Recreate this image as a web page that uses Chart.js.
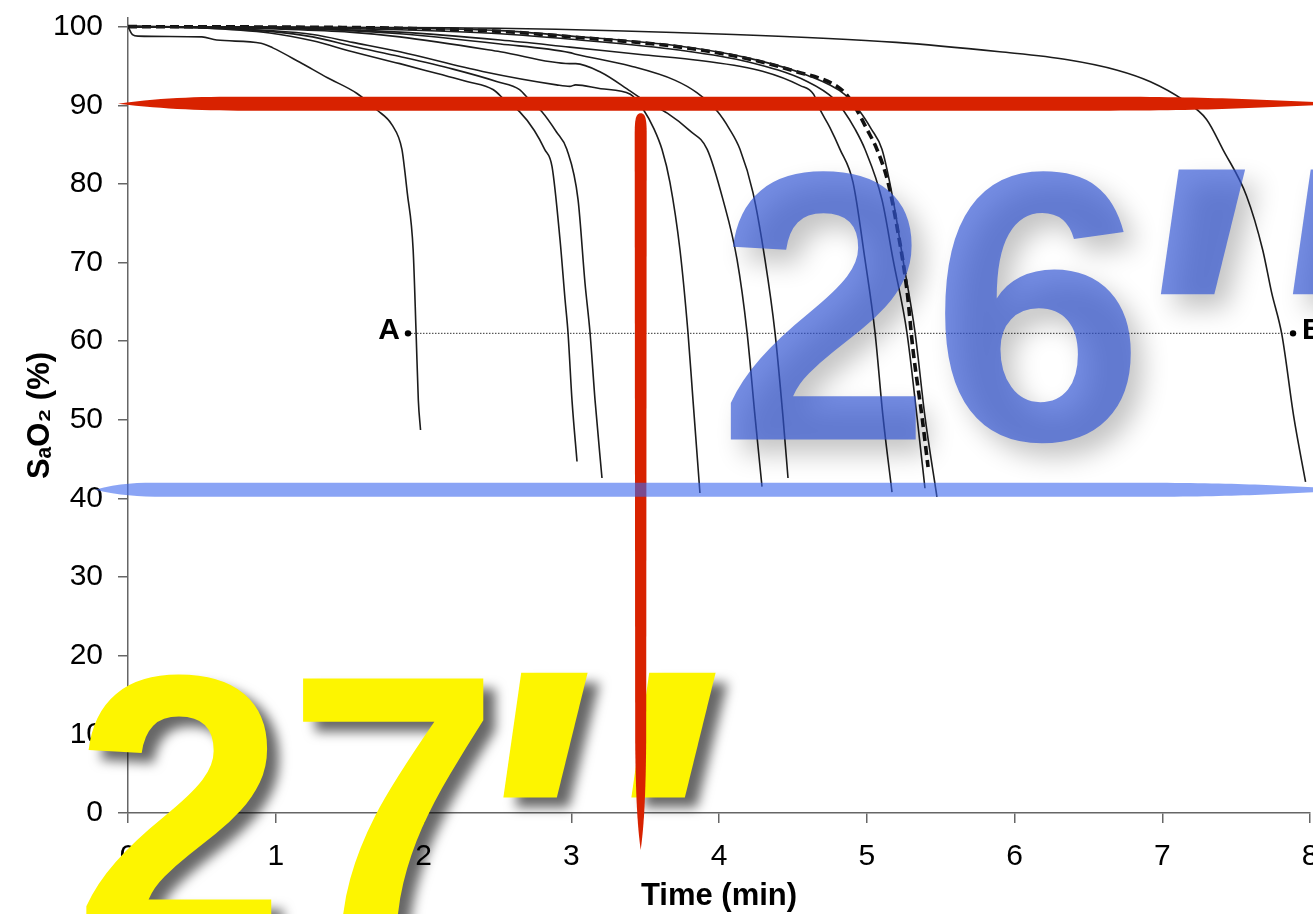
<!DOCTYPE html>
<html><head><meta charset="utf-8">
<script src="https://cdn.jsdelivr.net/npm/chart.js@4.4.0/dist/chart.umd.min.js"></script>
<style>
html,body{margin:0;padding:0;overflow:hidden;background:#fff;width:1313px;height:914px;}
#wrap{position:absolute;left:0;top:0;width:1340px;height:914px;}
</style></head><body>
<div id="wrap"><canvas id="c" width="1340" height="914"></canvas></div>
<script>
// ---- axis ticks ----
const xTickValues = [0,1,2,3,4,5,6,7,8];
const yTickValues = [0,10,20,30,40,50,60,70,80,90,100];

// ---- SaO2 desaturation curves (time in min, SaO2 in %) ----
const curveA_t = [0,0.03,0.07,0.5,0.6,0.9,0.98,1.16,1.35,1.55,1.685,1.787,1.854,1.875,1.89,1.93,1.95,1.965,1.98];
const curveA_s = [100,99.0,98.8,98.7,98.3,97.9,97.3,95.5,93.5,91.5,89.4,87.5,84.4,81.4,78.9,71.6,61.0,52.5,48.7];

const curve2_t = [0,0.5,0.96,1.25,1.52,1.84,2.1,2.3,2.47,2.56,2.65,2.75,2.82,2.87,2.924,2.958,2.978,3.005,3.039];
const curve2_s = [100,99.85,99.2,98.2,96.8,95.3,94.0,93.0,92.0,90.5,89.2,86.8,84.4,82.2,72.9,65.3,61.1,52.5,44.7];

const curve3_t = [0,0.5,0.96,1.25,1.52,1.84,2.2,2.5,2.65,2.72,2.80,2.9,2.97,3.046,3.093,3.127,3.161,3.208];
const curve3_s = [100,99.85,99.4,98.7,97.5,96.2,94.6,93.0,92.0,90.6,89.2,86.6,84.4,78.0,67.4,61.1,52.5,42.6];

const curve4_t = [0,0.5,0.96,1.25,1.52,1.84,2.4,2.9,2.99,3.03,3.2,3.40,3.49,3.56,3.614,3.668,3.736,3.79,3.824,3.871];
const curve4_s = [100,99.9,99.5,99.0,98.0,96.8,94.3,92.6,92.4,92.6,92.1,91.4,89.4,87.0,84.4,80.2,71.6,61.1,52.5,40.7];

const curve5_t = [0,0.5,1.0,1.5,1.84,2.52,2.99,3.03,3.2,3.4,3.52,3.65,3.8,3.92,4.027,4.122,4.19,4.244,4.291];
const curve5_s = [100,99.95,99.7,99.3,98.7,96.8,95.3,95.3,94.2,91.8,90.3,89.0,86.8,84.4,78.0,70.4,61.1,50.4,41.5];

const curve6_t = [0,0.5,1.0,1.5,1.84,2.52,2.99,3.03,3.4,3.7,3.85,3.99,4.07,4.142,4.23,4.311,4.379,4.433,4.467];
const curve6_s = [100,99.95,99.8,99.5,99.1,97.8,96.7,96.5,95.0,93.2,91.6,89.2,87.0,84.4,78.9,70.4,61.1,50.4,42.6];

const curve7_t = [0,0.5,1.0,1.84,2.52,2.99,3.5,3.87,4.3,4.55,4.64,4.68,4.75,4.819,4.907,4.988,5.056,5.11,5.171];
const curve7_s = [100,99.95,99.85,99.3,98.3,97.4,96.4,95.7,94.3,92.5,91.4,89.6,87.2,84.4,80.2,70.4,61.1,50.4,40.8];

const curve8_t = [0,1.0,1.84,2.52,3.0,3.74,4.2,4.6,4.78,4.84,4.92,4.988,5.103,5.178,5.272,5.34,5.394];
const curve8_s = [100,99.9,99.6,99.1,98.4,97.0,95.5,93.0,90.8,89.4,87.0,84.4,78.0,70.4,61.1,50.4,41.3];

const curve9_t = [0,1.0,1.84,2.52,3.0,3.74,4.2,4.6,4.85,4.95,5.03,5.103,5.178,5.245,5.327,5.394,5.475];
const curve9_s = [100,99.95,99.8,99.5,98.8,97.5,96.0,93.8,91.4,89.3,87.0,84.4,78.0,70.4,61.1,50.4,40.2];

const dashed_t = [0,1.0,1.84,2.52,3.0,3.74,4.2,4.5,4.8,4.87,4.93,5.0,5.069,5.144,5.212,5.272,5.313,5.374,5.415];
const dashed_s = [100,99.95,99.8,99.4,98.7,97.4,95.9,94.4,92.4,91.2,89.5,87.0,84.4,80.2,73.8,66.5,58.9,50.4,44.0];

const curveB_t = [0,1.0,2.5,4.1,5.2,5.9,6.36,6.69,6.92,7.14,7.3,7.41,7.57,7.68,7.74,7.81,7.89,7.97];
const curveB_s = [100,99.95,99.8,99.0,98.0,96.8,95.8,94.5,93.0,90.7,88.2,84.4,78.5,71.6,66.2,60.8,50.4,42.1];

// ---- reference line A–B ----
const refLine_t = [1.895, 7.885];
const refLine_s = [61, 61];
const refLabels = ['A', 'B'];

// ---- highlight marks ----
const redLevel = 90.2;       // horizontal red stroke (SaO2 90 %)
const redTime = 3.47;        // vertical red stroke (min)
const blueLevel = 41.1;      // horizontal blue stroke (SaO2 ~41 %)
const yellowLabel = "27''";
const blueLabel = "26''";
const yellowLabelAt = [-0.372, -16.5];   // [time, SaO2] of text baseline start
const blueLabelAt = [3.99, 47.5];

function pts(t, s){ return t.map((v,i)=>({x:v, y:s[i]})); }

const solid = {borderColor:'#1c1c1c', borderWidth:1.6, pointRadius:0, fill:false, cubicInterpolationMode:'monotone'};
const datasets = [
  Object.assign({label:'A', data:pts(curveA_t,curveA_s)}, solid),
  Object.assign({label:'2', data:pts(curve2_t,curve2_s)}, solid),
  Object.assign({label:'3', data:pts(curve3_t,curve3_s)}, solid),
  Object.assign({label:'4', data:pts(curve4_t,curve4_s)}, solid),
  Object.assign({label:'5', data:pts(curve5_t,curve5_s)}, solid),
  Object.assign({label:'6', data:pts(curve6_t,curve6_s)}, solid),
  Object.assign({label:'7', data:pts(curve7_t,curve7_s)}, solid),
  Object.assign({label:'8', data:pts(curve8_t,curve8_s)}, solid),
  Object.assign({label:'9', data:pts(curve9_t,curve9_s)}, solid),
  Object.assign({label:'B', data:pts(curveB_t,curveB_s)}, solid),
  {label:'mean', data:pts(dashed_t,dashed_s), borderColor:'#111', borderWidth:3.6, borderDash:[9,5], pointRadius:0, fill:false, cubicInterpolationMode:'monotone'},
  {label:'AB', data:pts(refLine_t,refLine_s), borderColor:'#333', borderWidth:1, borderDash:[1.5,1.5], pointRadius:3.2, pointBackgroundColor:'#000', pointBorderWidth:0, fill:false}
];

function brushH(ctx, x0, x1, yc, h, tl, tr, hr){
  ctx.beginPath();
  ctx.moveTo(x0, yc);
  ctx.bezierCurveTo(x0 + tl*0.35, yc - h, x0 + tl*0.6, yc - h, x0 + tl, yc - h);
  ctx.lineTo(x1 - tr, yc - h);
  ctx.bezierCurveTo(x1 - tr*0.5, yc - h, x1 - tr*0.3, yc - hr, x1, yc - hr*0.3);
  ctx.lineTo(x1, yc + hr*0.3);
  ctx.bezierCurveTo(x1 - tr*0.3, yc + hr, x1 - tr*0.5, yc + h, x1 - tr, yc + h);
  ctx.lineTo(x0 + tl, yc + h);
  ctx.bezierCurveTo(x0 + tl*0.6, yc + h, x0 + tl*0.35, yc + h*0.8, x0, yc);
  ctx.closePath();
  ctx.fill();
}

function drawBig(ctx, label, px, py, q1, q2){
  ctx.font = 'bold 384px "Liberation Sans", Arial, sans-serif';
  ctx.fillText(label.slice(0,2), px, py);
  ctx.font = 'italic bold 500px "Liberation Sans", Arial, sans-serif';
  ctx.fillText(label[2], px + q1, py + 74);
  ctx.fillText(label[3], px + q2, py + 74);
}

const overlay = {
  id:'overlay',
  afterDraw(chart){
    const ctx = chart.ctx, xs = chart.scales.x, ys = chart.scales.y;
    // A / B labels
    ctx.save();
    ctx.fillStyle = '#000';
    ctx.font = 'bold 30px "Liberation Sans", Arial, sans-serif';
    ctx.textBaseline = 'middle';
    const ax = xs.getPixelForValue(refLine_t[0]), bx = xs.getPixelForValue(refLine_t[1]);
    const ay = ys.getPixelForValue(refLine_s[0]) - 3;
    ctx.textAlign = 'right'; ctx.fillText(refLabels[0], ax - 8, ay);
    ctx.textAlign = 'left'; ctx.fillText(refLabels[1], bx + 9, ay);
    ctx.restore();

    // yellow big label
    ctx.save();
    ctx.fillStyle = '#fdf500';
    ctx.shadowColor = 'rgba(0,0,0,0.6)'; ctx.shadowBlur = 12; ctx.shadowOffsetX = 12; ctx.shadowOffsetY = 10;
    ctx.textBaseline = 'alphabetic'; ctx.textAlign = 'left';
    drawBig(ctx, yellowLabel, xs.getPixelForValue(yellowLabelAt[0]), ys.getPixelForValue(yellowLabelAt[1]), 382, 510);
    ctx.restore();

    // red strokes
    ctx.save();
    ctx.fillStyle = '#d82200';
    const ry = ys.getPixelForValue(redLevel);
    brushH(ctx, xs.left - 10, chart.width, ry, 7, 140, 230, 3);
    const rx = xs.getPixelForValue(redTime);
    const rTop = ys.getPixelForValue(89.0), rBot = ys.getPixelForValue(-4.7);
    ctx.beginPath();
    ctx.moveTo(rx, rTop);
    ctx.bezierCurveTo(rx + 6, rTop, rx + 6, rTop + 10, rx + 6, rTop + 25);
    ctx.lineTo(rx + 5.5, rBot - 110);
    ctx.bezierCurveTo(rx + 5, rBot - 40, rx + 2, rBot - 15, rx, rBot);
    ctx.bezierCurveTo(rx - 2, rBot - 15, rx - 5, rBot - 40, rx - 5.5, rBot - 110);
    ctx.lineTo(rx - 6, rTop + 25);
    ctx.bezierCurveTo(rx - 6, rTop + 10, rx - 6, rTop, rx, rTop);
    ctx.closePath();
    ctx.fill();
    ctx.restore();

    // blue stroke
    ctx.save();
    ctx.fillStyle = 'rgba(60,103,238,0.6)';
    const by = ys.getPixelForValue(blueLevel);
    brushH(ctx, xs.left - 33, chart.width, by, 7, 70, 200, 4);
    ctx.restore();

    // blue big label
    ctx.save();
    ctx.fillStyle = 'rgba(50,85,212,0.68)';
    ctx.shadowColor = 'rgba(0,0,0,0.35)'; ctx.shadowBlur = 26; ctx.shadowOffsetX = 12; ctx.shadowOffsetY = 14;
    ctx.textBaseline = 'alphabetic'; ctx.textAlign = 'left';
    drawBig(ctx, blueLabel, xs.getPixelForValue(blueLabelAt[0]), ys.getPixelForValue(blueLabelAt[1]), 395, 527);
    ctx.restore();
  }
};

new Chart(document.getElementById('c'), {
  type:'line',
  data:{datasets},
  options:{
    responsive:false,
    animation:false,
    events:[],
    layout:{padding:{left:0, top:18, right:30, bottom:0}},
    plugins:{legend:{display:false}, tooltip:{enabled:false}},
    scales:{
      x:{
        type:'linear', min:0, max:8,
        afterBuildTicks(s){ s.ticks = xTickValues.map(v=>({value:v})); },
        afterFit(s){ s.height = 101; s.paddingLeft = 0; s.paddingRight = 0; },
        ticks:{color:'#000', font:{family:'"Liberation Sans", Arial, sans-serif', size:30}, padding:16, maxRotation:0, autoSkip:false},
        grid:{drawOnChartArea:false, drawTicks:true, tickLength:10, color:'#666', lineWidth:1.5},
        border:{color:'#666', width:1.5},
        title:{display:true, text:'Time (min)', color:'#000', font:{family:'"Liberation Sans", Arial, sans-serif', size:31, weight:'bold', lineHeight:1.1}, padding:{top:0, bottom:0}}
      },
      y:{
        type:'linear', min:0, max:101.1,
        afterBuildTicks(s){ s.ticks = yTickValues.map(v=>({value:v})); },
        afterFit(s){ s.width = 128; s.paddingTop = 0; s.paddingBottom = 0; },
        ticks:{color:'#000', font:{family:'"Liberation Sans", Arial, sans-serif', size:30}, padding:15, autoSkip:false},
        grid:{drawOnChartArea:false, drawTicks:true, tickLength:10, color:'#666', lineWidth:1.5},
        border:{color:'#666', width:1.5},
        title:{display:true, text:'SₐO₂ (%)', color:'#000', font:{family:'"Liberation Sans", Arial, sans-serif', size:31, weight:'bold', lineHeight:1.1}, padding:{top:23, bottom:0}}
      }
    }
  },
  plugins:[overlay]
});
</script>
</body></html>
